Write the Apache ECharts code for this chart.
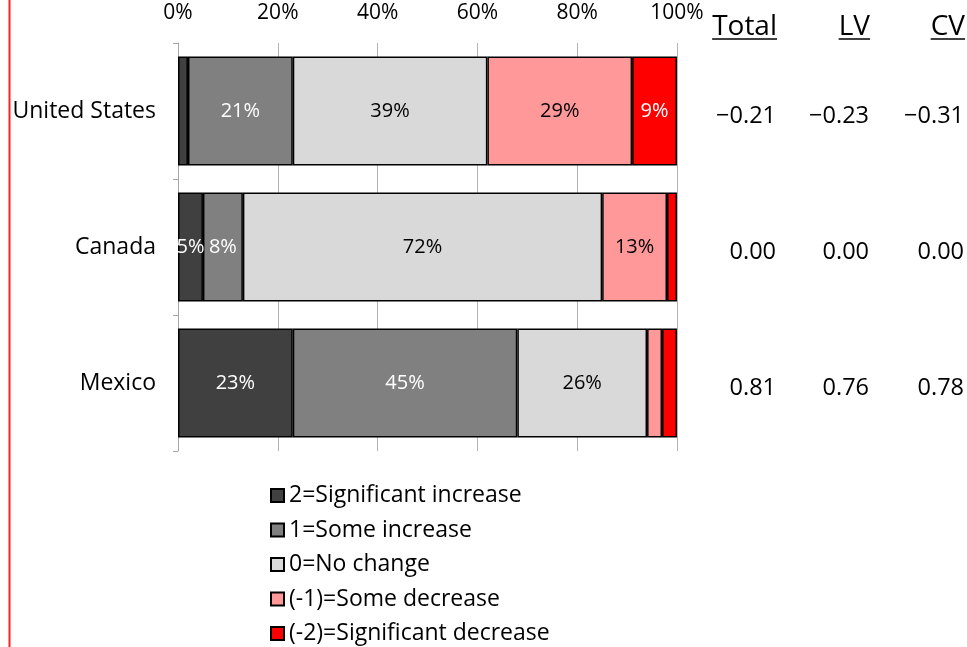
<!DOCTYPE html>
<html>
<head>
<meta charset="utf-8">
<script src="https://cdn.jsdelivr.net/npm/echarts@6/dist/echarts.min.js"></script>
<style>
  html, body { margin: 0; padding: 0; background: #fff; }
  #chart { width: 967px; height: 647px; }
</style>
</head>
<body>
<div id="chart"></div>
<script>
// Countries, top to bottom
const countries = ['United States', 'Canada', 'Mexico'];

// Share of answers per response (percent)
const sigIncrease  = [2, 5, 23];
const someIncrease = [21, 8, 45];
const noChange     = [39, 72, 26];
const someDecrease = [29, 13, 3];
const sigDecrease  = [9, 2, 3];

// Index scores shown to the right of the bars
const totalScore = ['\u22120.21', '0.00', '0.81'];
const lvScore    = ['\u22120.23', '0.00', '0.76'];
const cvScore    = ['\u22120.31', '0.00', '0.78'];
const scoreHeaders = ['Total', 'LV', 'CV'];

const seriesNames = [
  '2=Significant increase',
  '1=Some increase',
  '0=No change',
  '(-1)=Some decrease',
  '(-2)=Significant decrease'
];
const seriesData = [sigIncrease, someIncrease, noChange, someDecrease, sigDecrease];
const colors = ['#404040', '#808080', '#d9d9d9', '#ff9999', '#ff0000'];
const labelColors = ['#ffffff', '#ffffff', '#000000', '#000000', '#ffffff'];
const minLabelled = 5; // smallest share that still carries a label

const FONT = 'Open Sans';
const scoreRight = [777, 870, 965]; // right edge of each score column
const plotRight = 678;

const chart = echarts.init(document.getElementById('chart'), null, { renderer: 'canvas' });

function scoreAxis(values, rightEdge) {
  return {
    type: 'category',
    data: countries,
    inverse: true,
    position: 'right',
    axisLine: { show: false },
    axisTick: { show: false },
    splitLine: { show: false },
    axisLabel: {
      margin: rightEdge - plotRight,
      align: 'right',
      formatter: (v, i) => '{v|' + values[i] + '}',
      rich: {
        v: { fontFamily: FONT, fontSize: 23.5, color: '#000', padding: [10, 0, 0, 0] }
      }
    }
  };
}

// column headers with underline
const measure = document.createElement('canvas').getContext('2d');
measure.font = '28px "' + FONT + '"';
const headerGraphics = [];
scoreHeaders.forEach((h, i) => {
  const w = measure.measureText(h).width;
  headerGraphics.push({
    type: 'text',
    x: scoreRight[i],
    y: 27,
    style: { text: h, font: '28px "' + FONT + '"', fill: '#000', align: 'right', verticalAlign: 'middle' }
  });
  headerGraphics.push({
    type: 'line',
    shape: { x1: scoreRight[i] - w, y1: 39, x2: scoreRight[i], y2: 39 },
    style: { stroke: '#000', lineWidth: 1.5 }
  });
});

chart.setOption({
  animation: false,
  color: colors,
  grid: { left: 178, right: 967 - plotRight, top: 43, bottom: 196 },
  xAxis: {
    type: 'value',
    position: 'top',
    min: 0,
    max: 100,
    interval: 20,
    axisLine: { show: false },
    axisTick: { show: false },
    splitLine: { show: true, lineStyle: { color: '#b3b3b3', width: 1 } },
    axisLabel: {
      margin: 19,
      fontFamily: FONT,
      fontSize: 21,
      color: '#000',
      formatter: '{value}%'
    }
  },
  yAxis: [
    {
      type: 'category',
      data: countries,
      inverse: true,
      axisLine: { show: true, lineStyle: { color: '#a6a6a6', width: 1 } },
      axisTick: { show: true, length: 5, lineStyle: { color: '#a6a6a6' } },
      axisLabel: { margin: 22, fontFamily: FONT, fontSize: 23, color: '#000' }
    },
    scoreAxis(totalScore, scoreRight[0]),
    scoreAxis(lvScore, scoreRight[1]),
    scoreAxis(cvScore, scoreRight[2])
  ],
  legend: {
    orient: 'vertical',
    left: 265,
    top: 479,
    height: 180,
    itemGap: 11.5,
    itemWidth: 13,
    itemHeight: 13,
    icon: 'rect',
    textStyle: { fontFamily: FONT, fontSize: 23, color: '#000' },
    data: seriesNames
  },
  series: seriesNames.map((name, k) => ({
    name: name,
    type: 'bar',
    stack: 'share',
    barWidth: '80%',
    data: seriesData[k],
    itemStyle: { color: colors[k], borderColor: '#000', borderWidth: 1.5 },
    label: {
      show: true,
      position: 'inside',
      fontFamily: FONT,
      fontSize: 20,
      color: labelColors[k],
      formatter: p => (p.value >= minLabelled ? p.value + '%' : '')
    }
  })),
  graphic: [
    {
      type: 'rect',
      shape: { x: 8.5, y: 0, width: 2, height: 647 },
      style: { fill: '#ff2020' }
    }
  ].concat(headerGraphics)
});
</script>
</body>
</html>
